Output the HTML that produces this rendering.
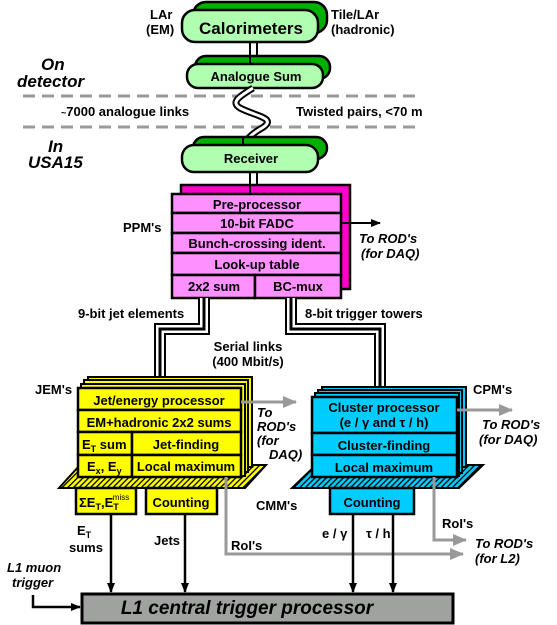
<!DOCTYPE html>
<html><head><meta charset="utf-8"><style>
html,body{margin:0;padding:0;background:#fff;}
svg{display:block;}
text{font-family:"Liberation Sans",sans-serif;font-weight:bold;font-size:13px;fill:#000;}
.i{font-style:italic;}
.c{text-anchor:middle;}
</style></head><body>
<svg width="557" height="625" viewBox="0 0 557 625" xmlns="http://www.w3.org/2000/svg">
<defs>
<pattern id="hy" width="4" height="4" patternUnits="userSpaceOnUse" patternTransform="rotate(45)">
<rect width="4" height="4" fill="#ffff00"/><rect width="1.3" height="4" fill="#000"/></pattern>
<pattern id="hc" width="4" height="4" patternUnits="userSpaceOnUse" patternTransform="rotate(45)">
<rect width="4" height="4" fill="#00ccff"/><rect width="1.3" height="4" fill="#000"/></pattern>
<marker id="ab" markerWidth="10" markerHeight="8" refX="9" refY="4" orient="auto" markerUnits="userSpaceOnUse"><path d="M0,0 L10,4 L0,8 z" fill="#000"/></marker>
<marker id="ag" markerWidth="14" markerHeight="12" refX="13" refY="6" orient="auto" markerUnits="userSpaceOnUse"><path d="M0,0 L14,6 L0,12 z" fill="#999"/></marker>
</defs>

<!-- Calorimeters -->
<rect x="193" y="2" width="134" height="31" rx="13" fill="#00b000" stroke="#000" stroke-width="2.5"/>
<rect x="182" y="10" width="136" height="32" rx="13" fill="#b0ffb0" stroke="#000" stroke-width="2.5"/>
<text x="251" y="34" class="c" style="font-size:17px">Calorimeters</text>
<text x="150" y="19">LAr</text><text x="146" y="34">(EM)</text>
<text x="331" y="19">Tile/LAr</text><text x="331" y="34">(hadronic)</text>
<line x1="250" y1="42" x2="250" y2="64" stroke="#000" stroke-width="2"/>
<line x1="257" y1="42" x2="257" y2="64" stroke="#000" stroke-width="2"/>

<!-- Analogue sum -->
<rect x="195" y="56" width="135" height="23" rx="11" fill="#00b000" stroke="#000" stroke-width="2.5"/>
<rect x="187" y="64" width="136" height="24" rx="11" fill="#b0ffb0" stroke="#000" stroke-width="2.5"/>
<line x1="250" y1="56" x2="250" y2="64" stroke="#000" stroke-width="2"/>
<text x="256" y="81" class="c">Analogue Sum</text>

<text x="41" y="70" class="i" style="font-size:17px">On</text>
<text x="17" y="87" class="i" style="font-size:17px">detector</text>
<line x1="23" y1="96" x2="418" y2="96" stroke="#999" stroke-width="3" stroke-dasharray="12,7"/>
<line x1="23" y1="127" x2="418" y2="127" stroke="#999" stroke-width="3" stroke-dasharray="12,7"/>
<text x="61" y="116"><tspan style="font-size:9px">~</tspan>7000 analogue links</text>
<text x="296" y="116">Twisted pairs, &lt;70 m</text>
<path d="M253,88 C240,96 230,102 240,108 C255,116 278,118 262,128 C255,132 250,136 247,140" fill="none" stroke="#000" stroke-width="7"/>
<path d="M253,88 C240,96 230,102 240,108 C255,116 278,118 262,128 C255,132 250,136 247,140" fill="none" stroke="#fff" stroke-width="3"/>
<text x="48" y="152" class="i" style="font-size:17px">In</text>
<text x="28" y="168" class="i" style="font-size:17px">USA15</text>

<!-- Receiver -->
<rect x="193" y="137" width="134" height="22" rx="11" fill="#00b000" stroke="#000" stroke-width="2.5"/>
<rect x="182" y="145" width="136" height="27" rx="12" fill="#b0ffb0" stroke="#000" stroke-width="2.5"/>
<line x1="243" y1="137" x2="243" y2="145" stroke="#000" stroke-width="2"/>
<text x="251" y="163" class="c">Receiver</text>
<line x1="250" y1="172" x2="250" y2="194" stroke="#000" stroke-width="2"/>
<line x1="257" y1="172" x2="257" y2="194" stroke="#000" stroke-width="2"/>

<!-- PPM -->
<rect x="181" y="185" width="169" height="104" fill="#ff00cc" stroke="#000" stroke-width="2.5"/>
<line x1="250" y1="185" x2="250" y2="194" stroke="#000" stroke-width="2"/>
<g fill="#ff90ff" stroke="#000" stroke-width="2.5">
<rect x="172" y="194" width="169" height="19"/>
<rect x="172" y="213" width="169" height="20"/>
<rect x="172" y="233" width="169" height="20"/>
<rect x="172" y="253" width="169" height="22"/>
<rect x="172" y="275" width="83" height="23"/>
<rect x="255" y="275" width="86" height="23"/>
</g>
<text x="257" y="209" class="c">Pre-processor</text>
<text x="257" y="228" class="c">10-bit FADC</text>
<text x="257" y="248" class="c">Bunch-crossing ident.</text>
<text x="257" y="269" class="c">Look-up table</text>
<text x="214" y="291" class="c">2x2 sum</text>
<text x="298" y="291" class="c">BC-mux</text>
<text x="123" y="232">PPM's</text>
<line x1="341" y1="223" x2="380" y2="223" stroke="#000" stroke-width="2" marker-end="url(#ab)"/>
<text x="359" y="243" class="i">To ROD's</text>
<text x="361" y="258" class="i">(for DAQ)</text>

<!-- triple links -->
<g fill="none" stroke-linejoin="miter">
<path d="M204,298 V329 H160 V386" stroke="#000" stroke-width="12"/>
<path d="M204,298 V329 H160 V386" stroke="#fff" stroke-width="8"/>
<path d="M204,298 V329 H160 V386" stroke="#000" stroke-width="3"/>
<path d="M291,298 V329 H380 V395" stroke="#000" stroke-width="12"/>
<path d="M291,298 V329 H380 V395" stroke="#fff" stroke-width="8"/>
<path d="M291,298 V329 H380 V395" stroke="#000" stroke-width="3"/>
</g>
<text x="78" y="318">9-bit jet elements</text>
<text x="305" y="318">8-bit trigger towers</text>
<text x="248" y="351" class="c">Serial links</text>
<text x="248" y="366" class="c">(400 Mbit/s)</text>

<!-- JEM -->
<polygon points="59,488 245,488 266,465 80,465" fill="url(#hy)" stroke="#000" stroke-width="2"/>
<rect x="88" y="377" width="164" height="90" fill="#ffff00" stroke="#000" stroke-width="2"/>
<rect x="84" y="380" width="164" height="92" fill="#ffff00" stroke="#000" stroke-width="2"/>
<rect x="81" y="384" width="164" height="92" fill="#ffff00" stroke="#000" stroke-width="2"/>
<g fill="#ffff00" stroke="#000" stroke-width="2.5">
<rect x="78" y="388" width="163" height="22"/>
<rect x="78" y="410" width="163" height="22"/>
<rect x="78" y="432" width="54" height="23"/>
<rect x="132" y="432" width="109" height="23"/>
<rect x="78" y="455" width="54" height="22"/>
<rect x="132" y="455" width="109" height="22"/>
</g>
<text x="159" y="405" class="c">Jet/energy processor</text>
<text x="159" y="427" class="c">EM+hadronic 2x2 sums</text>
<text x="82" y="449">E<tspan dy="3" font-size="9">T</tspan><tspan dy="-3"> sum</tspan></text>
<text x="186" y="449" class="c">Jet-finding</text>
<text x="87" y="471">E<tspan dy="3" font-size="9">x</tspan><tspan dy="-3">, E</tspan><tspan dy="3" font-size="9">y</tspan></text>
<text x="186" y="471" class="c">Local maximum</text>
<text x="35" y="394">JEM's</text>
<line x1="241" y1="402" x2="296" y2="402" stroke="#999" stroke-width="3" marker-end="url(#ag)"/>
<text x="257" y="417" class="i">To</text>
<text x="257" y="431" class="i">ROD's</text>
<text x="257" y="445" class="i">(for</text>
<text x="269" y="459" class="i">DAQ)</text>

<rect x="76" y="488" width="60" height="26" fill="#ffff00" stroke="#000" stroke-width="2.5"/>
<text x="79" y="507">ΣE<tspan dy="3" font-size="9">T</tspan><tspan dy="-3">,E</tspan><tspan dy="3" font-size="9">T</tspan><tspan dx="-6" dy="-10" font-size="8" font-weight="normal">miss</tspan></text>
<rect x="146" y="488" width="71" height="26" fill="#ffff00" stroke="#000" stroke-width="2.5"/>
<text x="181" y="507" class="c">Counting</text>
<text x="256" y="510">CMM's</text>

<!-- CPM -->
<polygon points="292,488 459,488 483,465 316,465" fill="url(#hc)" stroke="#000" stroke-width="2"/>
<rect x="322" y="387" width="144" height="80" fill="#00ccff" stroke="#000" stroke-width="2"/>
<rect x="318" y="390" width="144" height="83" fill="#00ccff" stroke="#000" stroke-width="2"/>
<rect x="315" y="393" width="144" height="83" fill="#00ccff" stroke="#000" stroke-width="2"/>
<g fill="#00ccff" stroke="#000" stroke-width="2.5">
<rect x="312" y="397" width="145" height="36"/>
<rect x="312" y="433" width="145" height="22"/>
<rect x="312" y="455" width="145" height="22"/>
</g>
<text x="384" y="412" class="c">Cluster processor</text>
<text x="384" y="427" class="c">(e / γ  and τ / h)</text>
<text x="384" y="450" class="c">Cluster-finding</text>
<text x="384" y="472" class="c">Local maximum</text>
<text x="473" y="394">CPM's</text>
<line x1="457" y1="410" x2="512" y2="410" stroke="#999" stroke-width="3" marker-end="url(#ag)"/>
<text x="482" y="429" class="i">To ROD's</text>
<text x="479" y="444" class="i">(for DAQ)</text>
<rect x="330" y="488" width="84" height="26" fill="#00ccff" stroke="#000" stroke-width="2.5"/>
<text x="372" y="507" class="c">Counting</text>

<!-- gray RoI lines -->
<path d="M226,477 V554 H463" fill="none" stroke="#999" stroke-width="3" marker-end="url(#ag)"/>
<path d="M434,477 V540 H466" fill="none" stroke="#999" stroke-width="3" marker-end="url(#ag)"/>
<text x="231" y="550">RoI's</text>
<text x="442" y="528">RoI's</text>
<text x="475" y="548" class="i">To ROD's</text>
<text x="475" y="563" class="i">(for L2)</text>

<!-- down arrows -->
<g stroke="#000" stroke-width="2.5" marker-end="url(#ab)">
<line x1="111" y1="514" x2="111" y2="592"/>
<line x1="185" y1="514" x2="185" y2="592"/>
<line x1="353" y1="514" x2="353" y2="592"/>
<line x1="393" y1="514" x2="393" y2="592"/>
</g>
<text x="77" y="535">E<tspan dy="3" font-size="9">T</tspan></text>
<text x="69" y="552">sums</text>
<text x="154" y="545">Jets</text>
<text x="322" y="538">e / γ</text>
<text x="366" y="538">τ / h</text>
<text x="7" y="572" class="i">L1 muon</text>
<text x="12" y="587" class="i">trigger</text>
<path d="M33,595 V607 H80" fill="none" stroke="#000" stroke-width="2.5" marker-end="url(#ab)"/>

<rect x="82" y="594" width="371" height="29" fill="#a0a2a0" stroke="#000" stroke-width="3"/>
<text x="247" y="614" class="c i" style="font-size:19px">L1 central trigger processor</text>
</svg>
</body></html>
